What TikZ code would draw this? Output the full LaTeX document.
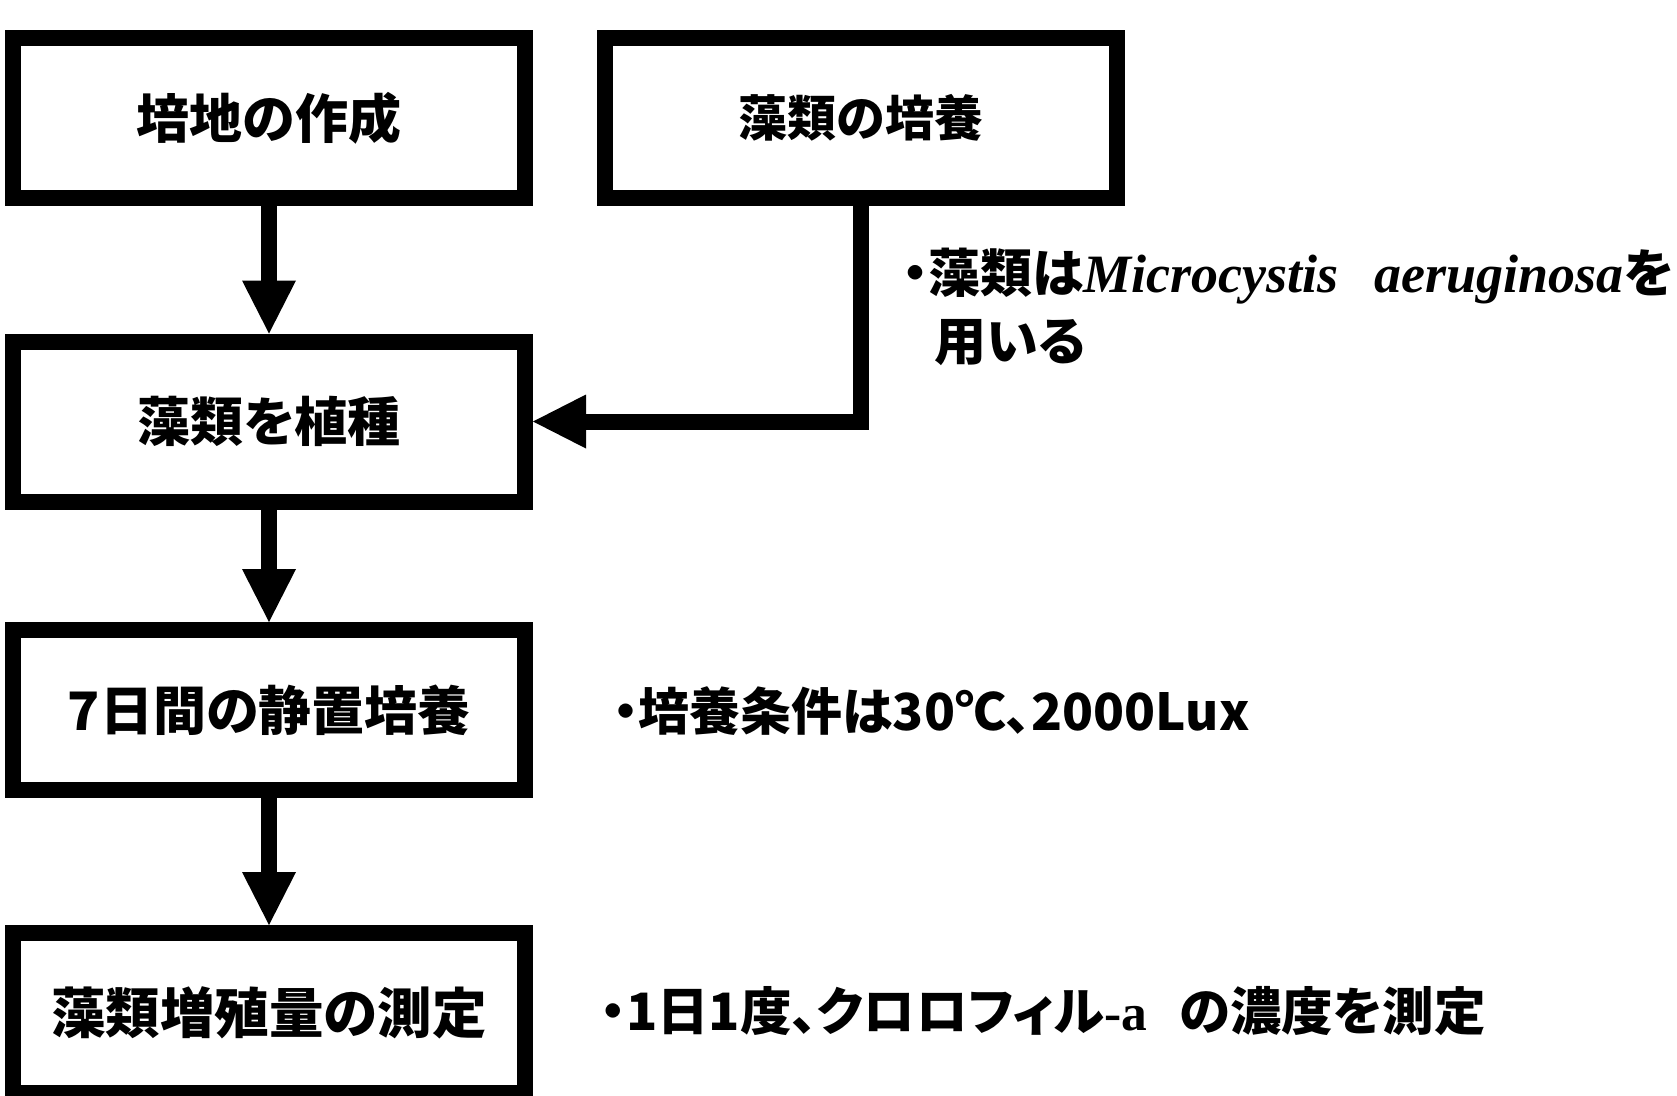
\documentclass[tikz,border=0pt]{standalone}
\usepackage{fontspec}
\usetikzlibrary{arrows.meta}
\newfontfamily\jp[RawFeature=+palt]{Noto Sans CJK JP}
\newfontfamily\lserif{Liberation Serif}
\newcommand\fsz[1]{\fontsize{#1}{68}\selectfont}
\begin{document}
\begin{tikzpicture}[x=1pt,y=-1pt,
  box/.style={draw,line width=16pt,minimum width=512pt,minimum height=160pt,inner sep=0pt,outer sep=8pt,font=\jp\bfseries\fsz{53}},
  note/.style={anchor=west,inner sep=0pt,font=\jp\bfseries\fsz{52},align=left},
  flow/.style={line width=16pt,line join=miter,-{Triangle[length=53pt,width=54pt,line width=0pt]}},
]
\useasboundingbox (0,0) rectangle (1677,1095);
\node[box] (b1) at (269,118) {培地の作成};
\node[box,font=\jp\bfseries\fsz{49}] (b2) at (861,118) {藻類の培養};
\node[box] (b3) at (269,421.5) {藻類を植種};
\node[box] (b4) at (269,710) {7日間の静置培養};
\node[box,font=\jp\bfseries\fsz{54.5}] (b5) at (269,1013) {藻類増殖量の測定};
\draw[flow] (b1.south) -- (b3.north);
\draw[flow] (b3.south) -- (b4.north);
\draw[flow] (b4.south) -- (b5.north);
\draw[flow] (b2.south) |- (b3.east);
\node[note] (n1) at (902,307) {・藻類は{\lserif\bfseries\itshape\fsz{54}Microcystis\hspace{36pt}aeruginosa}を\\\hspace*{32pt}用いる};
\node[note,font=\jp\bfseries\fsz{51}] (n2) at (613,711) {・培養条件は30℃、2000Lux};
\node[note,font=\jp\bfseries\fsz{51.5}] (n3) at (600,1011) {・1日1度、クロロフィル{\lserif\bfseries -a}\hspace{32pt}の濃度を測定};
\end{tikzpicture}
\end{document}
